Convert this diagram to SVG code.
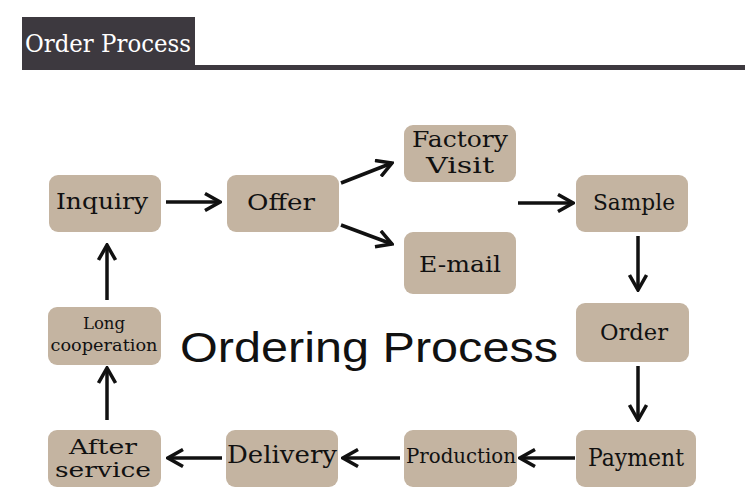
<svg xmlns="http://www.w3.org/2000/svg" width="753" height="501" viewBox="0 0 753 501">
<style>
.node rect{fill:#c4b4a1;}
.node text{font-family:"DejaVu Serif","Liberation Serif",serif;fill:#111;text-anchor:middle;}
.conn line{stroke:#111;stroke-width:3.5;marker-end:url(#ah);}
</style>
<defs>
<marker id="ah" viewBox="0 0 18 20" refX="16" refY="10" markerWidth="18" markerHeight="20" markerUnits="userSpaceOnUse" orient="auto">
<path d="M1,1.5 L16,10 L1,18.5" fill="none" stroke="#111" stroke-width="3.5"/>
</marker>
</defs>
<rect width="753" height="501" fill="#fff"/>
<g id="header">
<rect x="22" y="17" width="173" height="53" fill="#3d393f"/>
<rect x="195" y="65" width="550" height="5" fill="#3d393f"/>
<text x="25" y="52" font-family="'DejaVu Serif','Liberation Serif',serif" font-size="25" fill="#fff" textLength="166" lengthAdjust="spacingAndGlyphs">Order Process</text>
</g>
<text x="369" y="362" font-family="Liberation Sans, Arial, sans-serif" font-size="42" fill="#111" text-anchor="middle" textLength="378" lengthAdjust="spacingAndGlyphs">Ordering Process</text>
<g id="inquiry" class="node"><rect x="49" y="175" width="112" height="57" rx="9"/><text x="102" y="209" font-size="23" textLength="92" lengthAdjust="spacingAndGlyphs">Inquiry</text></g>
<g id="offer" class="node"><rect x="227" y="175" width="112" height="57" rx="9"/><text x="281" y="210" font-size="23" textLength="68" lengthAdjust="spacingAndGlyphs">Offer</text></g>
<g id="factory" class="node"><rect x="404" y="125" width="112" height="57" rx="9"/><text x="460" y="147" font-size="23" textLength="96" lengthAdjust="spacingAndGlyphs">Factory</text><text x="460" y="173" font-size="23" textLength="68" lengthAdjust="spacingAndGlyphs">Visit</text></g>
<g id="email" class="node"><rect x="404" y="232" width="112" height="62" rx="9"/><text x="460" y="272" font-size="23" textLength="82" lengthAdjust="spacingAndGlyphs">E-mail</text></g>
<g id="sample" class="node"><rect x="576" y="175" width="112" height="57" rx="9"/><text x="634" y="210" font-size="23" textLength="82" lengthAdjust="spacingAndGlyphs">Sample</text></g>
<g id="order" class="node"><rect x="576" y="303" width="113" height="59" rx="9"/><text x="634" y="340" font-size="23" textLength="68" lengthAdjust="spacingAndGlyphs">Order</text></g>
<g id="payment" class="node"><rect x="576" y="430" width="120" height="57" rx="9"/><text x="636" y="466" font-size="24" textLength="96" lengthAdjust="spacingAndGlyphs">Payment</text></g>
<g id="production" class="node"><rect x="404" y="430" width="113" height="57" rx="9"/><text x="461" y="463" font-size="20" textLength="110" lengthAdjust="spacingAndGlyphs">Production</text></g>
<g id="delivery" class="node"><rect x="226" y="430" width="112" height="57" rx="9"/><text x="282" y="463" font-size="24" textLength="110" lengthAdjust="spacingAndGlyphs">Delivery</text></g>
<g id="after" class="node"><rect x="48" y="430" width="113" height="57" rx="9"/><text x="103" y="454" font-size="21" textLength="68" lengthAdjust="spacingAndGlyphs">After</text><text x="103" y="477" font-size="21" textLength="96" lengthAdjust="spacingAndGlyphs">service</text></g>
<g id="long" class="node"><rect x="48" y="307" width="113" height="58" rx="9"/><text x="104" y="329" font-size="16" textLength="42" lengthAdjust="spacingAndGlyphs">Long</text><text x="104" y="351" font-size="16" textLength="107" lengthAdjust="spacingAndGlyphs">cooperation</text></g>
<g id="connectors" class="conn">
<line x1="166" y1="202" x2="220" y2="202"/>
<line x1="341" y1="183" x2="392" y2="163"/>
<line x1="341" y1="225" x2="392" y2="244"/>
<line x1="518" y1="203" x2="573" y2="203"/>
<line x1="638" y1="236" x2="638" y2="290"/>
<line x1="638" y1="366" x2="638" y2="420"/>
<line x1="575" y1="458" x2="520" y2="458"/>
<line x1="400" y1="458" x2="343" y2="458"/>
<line x1="222" y1="458" x2="168" y2="458"/>
<line x1="107" y1="420" x2="107" y2="368"/>
<line x1="107" y1="300" x2="107" y2="245"/>
</g>
</svg>
